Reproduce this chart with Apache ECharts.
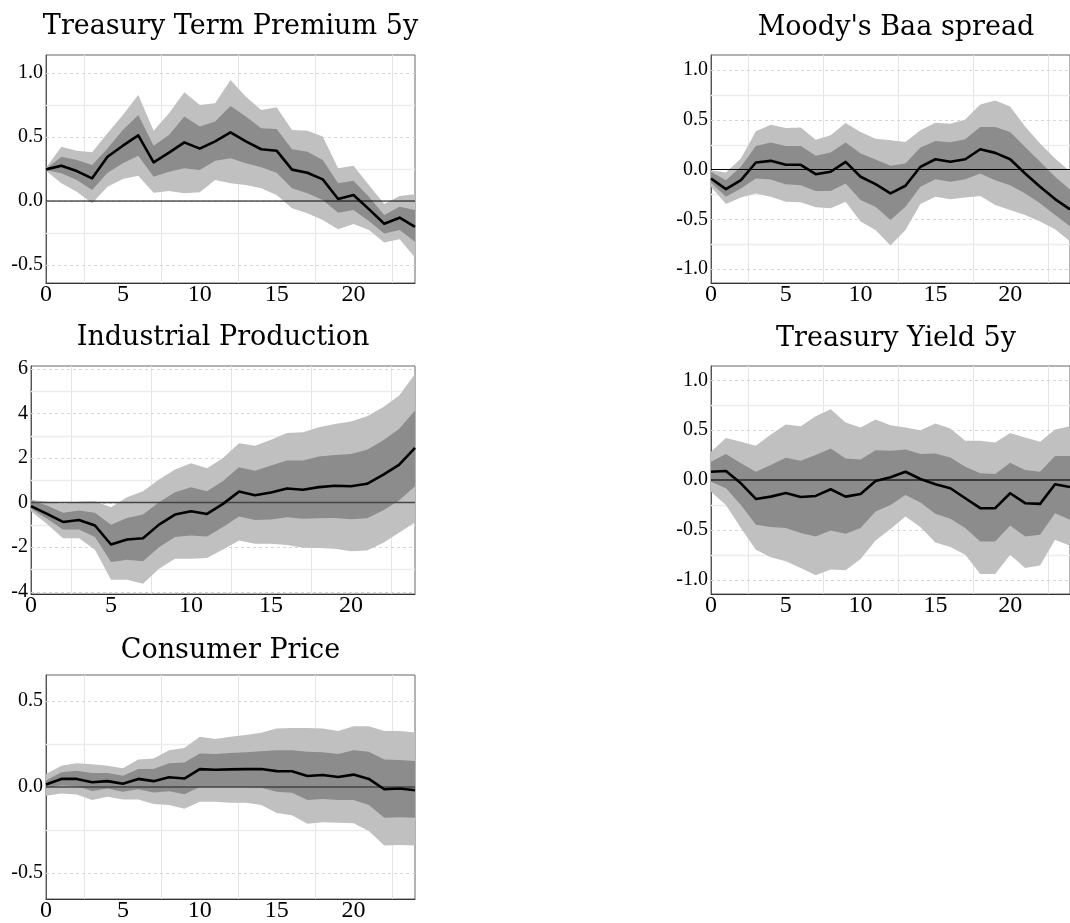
<!DOCTYPE html>
<html>
<head>
<meta charset="utf-8">
<script src="https://cdn.jsdelivr.net/npm/echarts@6/dist/echarts.min.js"></script>
<style>
  html, body { margin: 0; padding: 0; background: #ffffff; }
  #chart { width: 1070px; height: 923px; }
</style>
</head>
<body>
<div id="chart"></div>
<script>
// Horizon (months after the shock) and axis ticks
const steps = [0,1,2,3,4,5,6,7,8,9,10,11,12,13,14,15,16,17,18,19,20,21,22,23,24];
const xTicks = [0, 5, 10, 15, 20];
const xMinorGrid = [2.5, 7.5, 12.5, 17.5, 22.5];

// Treasury Term Premium 5y: median response with 68% and 90% bands
const tpMedian  = [0.247,0.276,0.234,0.177,0.346,0.432,0.513,0.302,0.378,0.458,0.409,0.466,0.536,0.466,0.404,0.393,0.245,0.221,0.169,0.016,0.047,-0.063,-0.177,-0.130,-0.201];
const tpInnerHi = [0.250,0.346,0.320,0.281,0.411,0.555,0.672,0.432,0.516,0.659,0.581,0.620,0.742,0.659,0.568,0.563,0.404,0.385,0.320,0.138,0.159,0.034,-0.109,-0.044,-0.070];
const tpInnerLo = [0.242,0.216,0.164,0.086,0.221,0.294,0.354,0.190,0.229,0.255,0.242,0.315,0.333,0.294,0.263,0.221,0.099,0.060,0.008,-0.091,-0.070,-0.156,-0.253,-0.227,-0.318];
const tpOuterHi = [0.260,0.424,0.393,0.380,0.529,0.672,0.828,0.549,0.685,0.849,0.750,0.763,0.945,0.815,0.711,0.732,0.555,0.549,0.503,0.255,0.276,0.125,-0.023,0.039,0.052];
const tpOuterLo = [0.237,0.138,0.073,-0.018,0.112,0.172,0.198,0.065,0.078,0.060,0.068,0.164,0.138,0.125,0.099,0.047,-0.057,-0.096,-0.148,-0.221,-0.180,-0.227,-0.323,-0.299,-0.440];
const tpTicks = [-0.5, 0, 0.5, 1.0];

// Moody's Baa spread
const baaMedian  = [-0.090,-0.197,-0.107,0.070,0.087,0.047,0.047,-0.047,-0.023,0.077,-0.073,-0.147,-0.240,-0.163,0.027,0.103,0.077,0.103,0.203,0.167,0.103,-0.040,-0.173,-0.297,-0.400];
const baaInnerHi = [-0.023,-0.107,0.027,0.237,0.270,0.237,0.237,0.137,0.170,0.270,0.160,0.100,0.037,0.060,0.220,0.287,0.273,0.303,0.427,0.427,0.377,0.227,0.077,-0.073,-0.200];
const baaInnerLo = [-0.133,-0.273,-0.190,-0.090,-0.100,-0.147,-0.157,-0.217,-0.217,-0.140,-0.307,-0.373,-0.507,-0.373,-0.173,-0.097,-0.123,-0.097,-0.040,-0.107,-0.157,-0.240,-0.340,-0.457,-0.570];
const baaOuterHi = [-0.007,-0.030,0.110,0.383,0.450,0.417,0.423,0.300,0.343,0.467,0.377,0.310,0.293,0.277,0.393,0.470,0.460,0.503,0.653,0.693,0.633,0.433,0.260,0.110,-0.020];
const baaOuterLo = [-0.173,-0.347,-0.280,-0.240,-0.273,-0.323,-0.330,-0.380,-0.390,-0.323,-0.523,-0.607,-0.763,-0.607,-0.347,-0.273,-0.300,-0.280,-0.267,-0.357,-0.407,-0.457,-0.523,-0.600,-0.720];
const baaTicks = [-1.0, -0.5, 0, 0.5, 1.0];

// Industrial Production
const ipMedian  = [-0.16,-0.51,-0.87,-0.78,-1.03,-1.88,-1.66,-1.60,-0.99,-0.54,-0.39,-0.51,-0.06,0.49,0.33,0.45,0.63,0.57,0.69,0.75,0.73,0.84,1.24,1.69,2.45];
const ipInnerHi = [0.09,-0.13,-0.46,-0.36,-0.46,-1.00,-0.69,-0.54,0.01,0.46,0.69,0.51,0.96,1.58,1.43,1.66,1.88,1.88,2.06,2.13,2.18,2.37,2.78,3.30,4.12];
const ipInnerLo = [-0.28,-0.73,-1.21,-1.21,-1.55,-2.67,-2.57,-2.63,-2.00,-1.55,-1.48,-1.52,-1.10,-0.63,-0.78,-0.76,-0.66,-0.73,-0.70,-0.69,-0.75,-0.70,-0.36,0.09,0.73];
const ipOuterHi = [0.13,0.04,-0.06,0.04,0.06,-0.21,0.24,0.51,1.03,1.48,1.76,1.54,2.00,2.66,2.55,2.81,3.12,3.15,3.37,3.52,3.63,3.87,4.27,4.79,5.76];
const ipOuterLo = [-0.39,-0.96,-1.60,-1.60,-2.12,-3.46,-3.46,-3.64,-2.97,-2.52,-2.52,-2.49,-2.10,-1.70,-1.85,-1.85,-1.90,-2.03,-2.04,-2.07,-2.18,-2.15,-1.81,-1.36,-0.88];
const ipTicks = [-4, -2, 0, 2, 4, 6];

// Treasury Yield 5y
const tyMedian  = [0.083,0.090,-0.033,-0.190,-0.167,-0.130,-0.170,-0.160,-0.093,-0.167,-0.140,-0.010,0.027,0.083,0.010,-0.043,-0.083,-0.183,-0.283,-0.283,-0.133,-0.233,-0.240,-0.043,-0.070];
const tyInnerHi = [0.183,0.260,0.167,0.083,0.150,0.223,0.193,0.250,0.317,0.217,0.207,0.300,0.293,0.307,0.260,0.267,0.227,0.133,0.067,0.060,0.173,0.100,0.083,0.240,0.240];
const tyInnerLo = [-0.017,-0.083,-0.250,-0.450,-0.473,-0.483,-0.533,-0.567,-0.507,-0.540,-0.483,-0.317,-0.250,-0.150,-0.227,-0.340,-0.390,-0.483,-0.617,-0.617,-0.457,-0.567,-0.550,-0.333,-0.400];
const tyOuterHi = [0.283,0.423,0.383,0.343,0.457,0.557,0.540,0.640,0.710,0.577,0.527,0.607,0.550,0.527,0.500,0.567,0.517,0.393,0.393,0.377,0.473,0.427,0.383,0.507,0.540];
const tyOuterLo = [-0.117,-0.250,-0.483,-0.700,-0.777,-0.817,-0.883,-0.957,-0.900,-0.907,-0.793,-0.607,-0.493,-0.367,-0.473,-0.627,-0.673,-0.750,-0.943,-0.943,-0.750,-0.883,-0.860,-0.600,-0.660];
const tyTicks = [-1.0, -0.5, 0, 0.5, 1.0];

// Consumer Price
const cpMedian  = [0.015,0.047,0.047,0.028,0.034,0.019,0.047,0.034,0.057,0.049,0.104,0.100,0.102,0.104,0.104,0.092,0.091,0.064,0.070,0.058,0.072,0.047,-0.013,-0.009,-0.019];
const cpInnerHi = [0.038,0.085,0.094,0.081,0.081,0.066,0.104,0.104,0.138,0.142,0.194,0.192,0.198,0.202,0.208,0.213,0.213,0.204,0.202,0.192,0.213,0.204,0.160,0.157,0.151];
const cpInnerLo = [-0.004,0.009,0.004,-0.023,-0.009,-0.028,-0.013,-0.032,-0.025,-0.042,0.000,0.000,0.000,0.000,-0.004,-0.028,-0.034,-0.075,-0.070,-0.075,-0.075,-0.104,-0.179,-0.175,-0.179];
const cpOuterHi = [0.075,0.123,0.138,0.132,0.123,0.109,0.160,0.166,0.213,0.226,0.292,0.279,0.292,0.302,0.315,0.340,0.343,0.343,0.340,0.325,0.353,0.353,0.325,0.325,0.317];
const cpOuterLo = [-0.051,-0.038,-0.043,-0.075,-0.057,-0.072,-0.072,-0.098,-0.104,-0.126,-0.085,-0.085,-0.091,-0.091,-0.104,-0.151,-0.164,-0.213,-0.204,-0.208,-0.211,-0.255,-0.340,-0.336,-0.340];
const cpTicks = [-0.5, 0, 0.5];

// Panel layout and styling
const panels = [
  { title: 'Treasury Term Premium 5y', median: tpMedian, inner: [tpInnerLo, tpInnerHi], outer: [tpOuterLo, tpOuterHi],
    ticks: tpTicks, yMin: -0.64, yMax: 1.14, digits: 1, grid: { left: 46, top: 55, width: 369, height: 228 }, titleY: 27, zero: ['#000', 1] },
  { title: "Moody's Baa spread", median: baaMedian, inner: [baaInnerLo, baaInnerHi], outer: [baaOuterLo, baaOuterHi],
    ticks: baaTicks, yMin: -1.14, yMax: 1.15, digits: 1, grid: { left: 711, top: 55, width: 370, height: 228 }, titleY: 28, zero: ['#000', 1] },
  { title: 'Industrial Production', median: ipMedian, inner: [ipInnerLo, ipInnerHi], outer: [ipOuterLo, ipOuterHi],
    ticks: ipTicks, yMin: -4.1, yMax: 6.12, digits: 0, grid: { left: 31, top: 366, width: 384, height: 228 }, titleY: 338, zero: ['#444', 1.6] },
  { title: 'Treasury Yield 5y', median: tyMedian, inner: [tyInnerLo, tyInnerHi], outer: [tyOuterLo, tyOuterHi],
    ticks: tyTicks, yMin: -1.145, yMax: 1.145, digits: 1, grid: { left: 711, top: 366, width: 370, height: 228 }, titleY: 339, zero: ['#222', 1.3] },
  { title: 'Consumer Price', median: cpMedian, inner: [cpInnerLo, cpInnerHi], outer: [cpOuterLo, cpOuterHi],
    ticks: cpTicks, yMin: -0.65, yMax: 0.65, digits: 1, grid: { left: 46, top: 675, width: 369, height: 229 }, titleY: 651, zero: ['#444', 1.6] }
];

const OUTER_COLOR = '#c0c0c0';
const INNER_COLOR = '#8c8c8c';
const TICK_FONT = 'Liberation Serif';
const TITLE_FONT = 'DejaVu Serif';

// Filled band between two bound arrays, drawn as one polygon in data space
function bandSeries(idx, lo, hi, color, z) {
  return {
    type: 'custom', xAxisIndex: idx, yAxisIndex: idx, z: z, silent: true,
    data: steps.map((s, i) => [s, lo[i], hi[i]]),
    renderItem(params, api) {
      if (params.dataIndex !== 0) return null;
      const upper = steps.map((s, i) => api.coord([s, hi[i]]));
      const lower = steps.map((s, i) => api.coord([s, lo[i]])).reverse();
      return { type: 'polygon', shape: { points: upper.concat(lower) }, style: { fill: color } };
    }
  };
}

// Horizontal or vertical guide lines spanning the plot area
function guideSeries(idx, values, vertical, dashed, color, width) {
  return {
    type: 'custom', xAxisIndex: idx, yAxisIndex: idx, z: 1, silent: true,
    data: values.map(v => vertical ? [v, 0] : [0, v]),
    renderItem(params, api) {
      const cs = params.coordSys;
      const pt = api.coord([api.value(0), api.value(1)]);
      const shape = vertical
        ? { x1: Math.round(pt[0]) + 0.5, y1: cs.y, x2: Math.round(pt[0]) + 0.5, y2: cs.y + cs.height }
        : { x1: cs.x, y1: Math.round(pt[1]) + 0.5, x2: cs.x + cs.width, y2: Math.round(pt[1]) + 0.5 };
      return { type: 'line', shape: shape, style: { stroke: color, lineWidth: width, lineDash: dashed ? [3, 3] : null } };
    }
  };
}

const grids = [], xAxes = [], yAxes = [], series = [], graphics = [];

panels.forEach((p, idx) => {
  grids.push(Object.assign({ show: true, borderColor: '#666', borderWidth: 1, backgroundColor: '#fff' }, p.grid));

  xAxes.push({
    type: 'value', gridIndex: idx, min: 0, max: 24,
    axisLine: { show: true, onZero: false, lineStyle: { color: '#333', width: 1 } },
    axisTick: { show: false },
    splitLine: { show: false },
    axisLabel: { customValues: xTicks, color: '#000', fontFamily: TICK_FONT, fontSize: 24, margin: 0 }
  });

  const minorY = p.ticks.slice(0, -1).map((v, i) => (v + p.ticks[i + 1]) / 2);
  yAxes.push({
    type: 'value', gridIndex: idx, min: p.yMin, max: p.yMax,
    axisLine: { show: true, onZero: false, lineStyle: { color: '#555', width: 1 } },
    axisTick: { show: false },
    splitLine: { show: false },
    axisLabel: {
      customValues: p.ticks, color: '#000', fontFamily: TICK_FONT, fontSize: 20, margin: 3,
      formatter: v => Number(v).toFixed(p.digits)
    }
  });

  series.push(guideSeries(idx, xMinorGrid, true, false, '#e4e4e4', 1));
  series.push(guideSeries(idx, minorY, false, false, '#ececec', 1.5));
  series.push(guideSeries(idx, p.ticks, false, true, '#d6d6d6', 1));

  series.push(bandSeries(idx, p.outer[0], p.outer[1], OUTER_COLOR, 2));
  series.push(bandSeries(idx, p.inner[0], p.inner[1], INNER_COLOR, 3));

  series.push({
    type: 'line', xAxisIndex: idx, yAxisIndex: idx, z: 4, silent: true,
    data: [[0, 0], [24, 0]], symbol: 'none',
    lineStyle: { color: p.zero[0], width: p.zero[1] }
  });

  series.push({
    type: 'line', xAxisIndex: idx, yAxisIndex: idx, z: 5, silent: true,
    data: steps.map((s, i) => [s, p.median[i]]), symbol: 'none',
    lineStyle: { color: '#000', width: 2.6, join: 'round' }
  });

  graphics.push({
    type: 'text', x: p.grid.left + p.grid.width / 2, y: p.titleY, silent: true,
    style: { text: p.title, fontFamily: TITLE_FONT, fontSize: 27, fill: '#000', align: 'center', verticalAlign: 'middle' }
  });
});

const chart = echarts.init(document.getElementById('chart'), null, { renderer: 'canvas' });
chart.setOption({
  animation: false,
  backgroundColor: '#ffffff',
  grid: grids,
  xAxis: xAxes,
  yAxis: yAxes,
  series: series,
  graphic: graphics
});
</script>
</body>
</html>
